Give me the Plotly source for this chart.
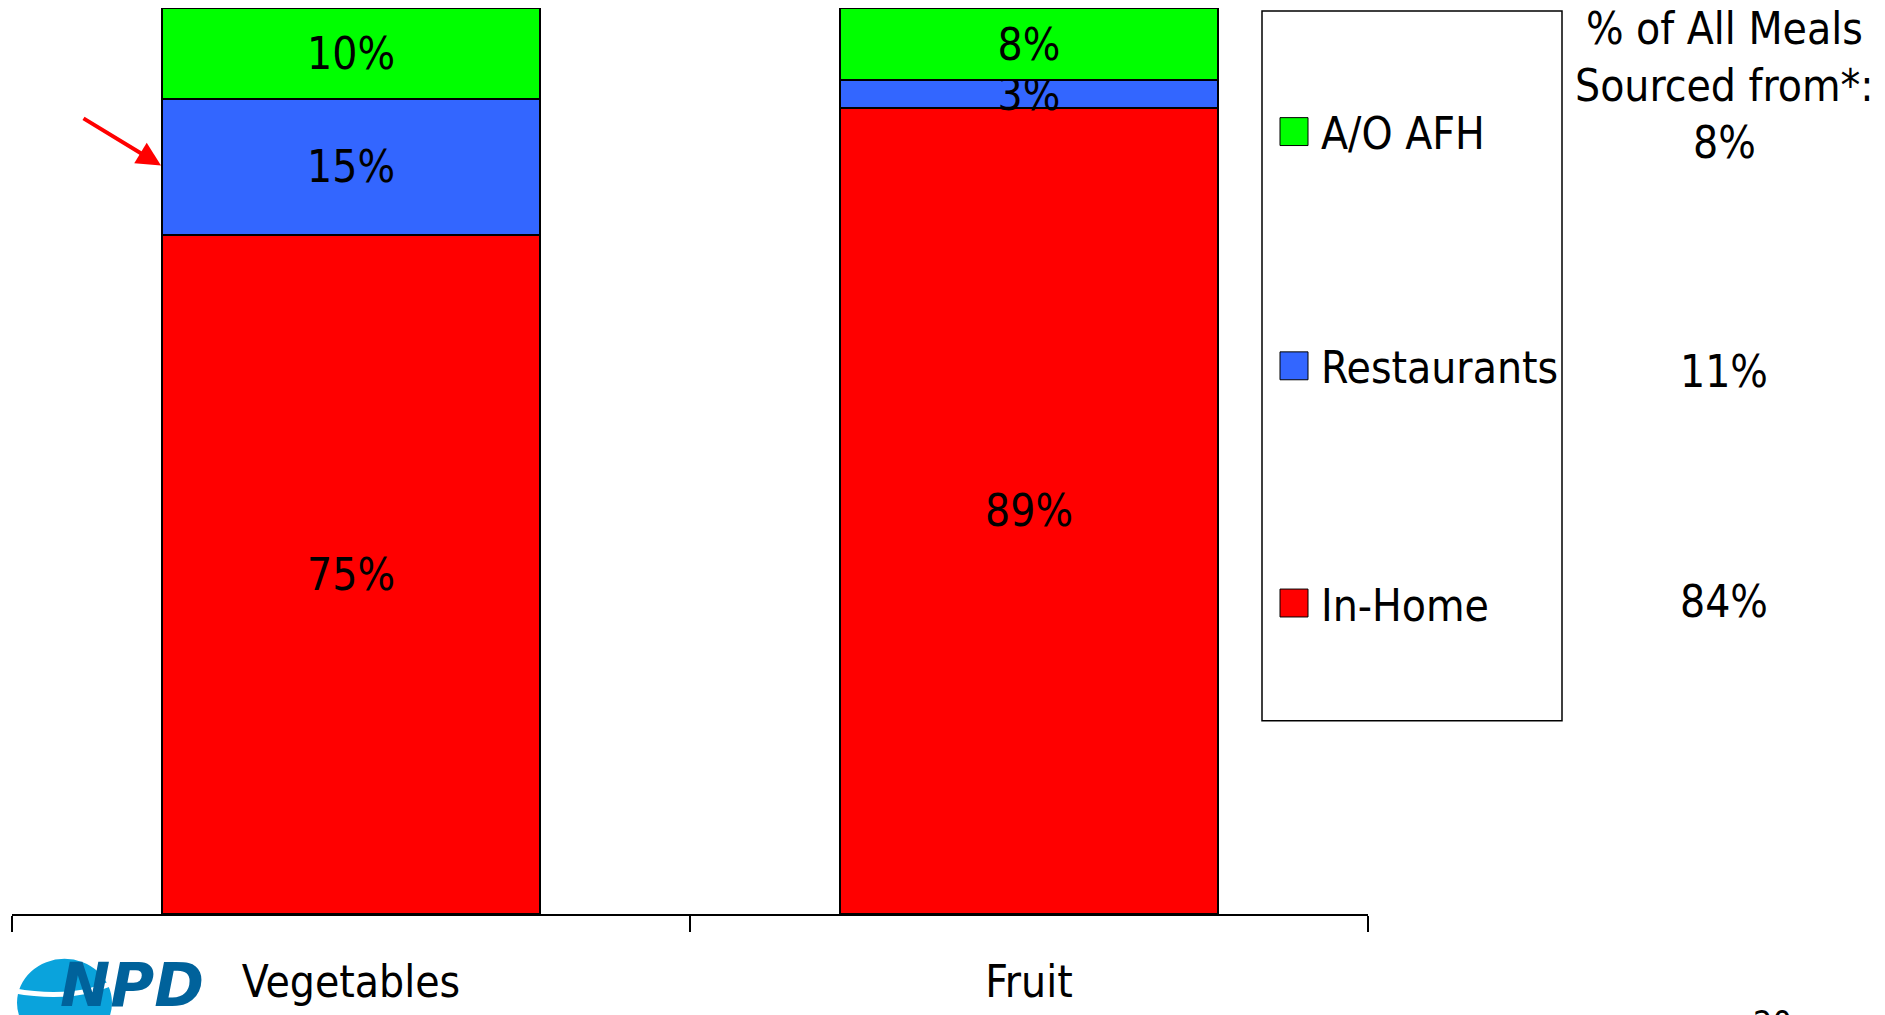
import plotly.graph_objects as go

# Share of each food group's servings by where the meal was sourced
categories = ["Vegetables", "Fruit"]
series_names = ["In-Home", "Restaurants", "A/O AFH"]
in_home = [75, 89]
restaurants = [15, 3]
ao_afh = [10, 8]
series_values = [in_home, restaurants, ao_afh]
series_colors = ["#FF0000", "#3366FF", "#00FF00"]

# Share of all meals sourced from each location
all_meals_share = [84, 11, 8]
side_title = "% of All Meals<br>Sourced from*:"
page_number = "20"

W, H = 1885, 1015
L, R, T, B = 12, 1368, 8, 917  # plot area in pixels
FONT = "Liberation Sans Narrow, Arial Narrow, DejaVu Sans Condensed, sans-serif"
TXT = 44


def px_x(p):
    return (p - L) / (R - L)


def px_y(p):
    return (B - p) / (B - T)


fig = go.Figure()
for name, vals, color in zip(series_names, series_values, series_colors):
    fig.add_trace(go.Bar(
        x=categories, y=vals, name=name,
        marker=dict(color=color, line=dict(color="black", width=2)),
        texttemplate="%{y}%", textposition="inside",
        insidetextanchor="middle",
        textfont=dict(family=FONT, size=TXT, color="black"),
        showlegend=False, hoverinfo="skip",
    ))

fig.update_layout(
    width=W, height=H, barmode="stack", bargap=0.443,
    margin=dict(l=L, r=W - R, t=T, b=H - B, pad=0),
    paper_bgcolor="white", plot_bgcolor="white",
    uniformtext=dict(minsize=TXT, mode="show"),
    font=dict(family=FONT, size=TXT, color="black"),
    xaxis=dict(
        range=[-0.5, 1.5], showline=True, linecolor="black", linewidth=2,
        ticks="outside", tickson="boundaries", ticklen=16, tickwidth=2,
        tickcolor="black", showgrid=False, zeroline=False,
        tickfont=dict(family=FONT, size=TXT, color="black"),
        ticklabelstandoff=28,
    ),
    yaxis=dict(range=[0, 100], visible=False, showgrid=False),
)

shapes = []
annotations = []

# legend frame
shapes.append(dict(type="rect", xref="paper", yref="paper",
                   x0=px_x(1262), x1=px_x(1562), y0=px_y(723), y1=px_y(11),
                   line=dict(color="black", width=1.5), fillcolor="white",
                   layer="below"))

legend_rows = [132, 367, 605]  # top to bottom: A/O AFH, Restaurants, In-Home
for name, color, yc in zip(series_names[::-1], series_colors[::-1], legend_rows):
    shapes.append(dict(type="rect", xref="paper", yref="paper",
                       x0=px_x(1280), x1=px_x(1308),
                       y0=px_y(yc + 14), y1=px_y(yc - 14),
                       line=dict(color="black", width=1), fillcolor=color))
    annotations.append(dict(text=name, xref="paper", yref="paper",
                            x=px_x(1319), y=px_y(yc + 2), xanchor="left",
                            yanchor="middle", showarrow=False,
                            font=dict(family=FONT, size=TXT, color="black")))

# side column: share of all meals
annotations.append(dict(text=side_title, xref="paper", yref="paper",
                        x=px_x(1724), y=px_y(57), xanchor="center",
                        yanchor="middle", showarrow=False,
                        font=dict(family=FONT, size=TXT, color="black")))
for share, yc in zip(all_meals_share[::-1], [143, 373, 603]):
    annotations.append(dict(text=f"{share}%", xref="paper", yref="paper",
                            x=px_x(1724), y=px_y(yc), xanchor="center",
                            yanchor="middle", showarrow=False,
                            font=dict(family=FONT, size=TXT, color="black")))

# red pointer arrow at the restaurants segment
annotations.append(dict(text="", xref="paper", yref="paper",
                        x=px_x(161), y=px_y(166), ax=-79, ay=-48,
                        showarrow=True, arrowhead=2, arrowsize=1.2,
                        arrowwidth=4, arrowcolor="#FF0000"))

# page number, partly below the page edge
annotations.append(dict(text=page_number, xref="paper", yref="paper",
                        x=px_x(1772), y=px_y(1004), xanchor="center",
                        yanchor="top", showarrow=False,
                        font=dict(family=FONT, size=34, color="black")))

# NPD logo
shapes.append(dict(type="circle", xref="paper", yref="paper",
                   x0=px_x(17), x1=px_x(112), y0=px_y(1050), y1=px_y(962),
                   line=dict(width=0), fillcolor="#0AA3DC"))
shapes.append(dict(type="path", xref="paper", yref="paper",
                   path=f"M {px_x(14)},{px_y(994)} Q {px_x(80)},{px_y(1006)} "
                        f"{px_x(124)},{px_y(980)}",
                   line=dict(color="white", width=5)))
annotations.append(dict(text="<b><i>NPD</i></b>", xref="paper", yref="paper",
                        x=px_x(58), y=px_y(988), xanchor="left",
                        yanchor="middle", showarrow=False,
                        font=dict(family="DejaVu Sans, sans-serif",
                                  size=60, color="#00629B")))

fig.update_layout(shapes=shapes, annotations=annotations)
fig.write_html("out.html")
